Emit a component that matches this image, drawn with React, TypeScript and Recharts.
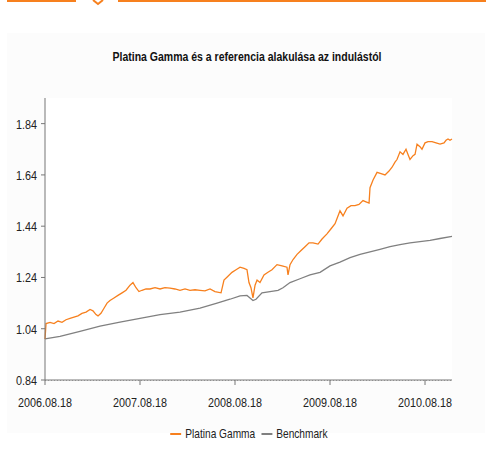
import { LineChart, Line, XAxis, YAxis, CartesianGrid } from 'recharts';

// years since launch (2006.08.18)
const gammaYears = [
  0, 0.011, 0.053, 0.095, 0.137, 0.179, 0.221, 0.263, 0.305, 0.347, 0.389, 0.432, 0.474, 0.505, 0.537,
  0.558, 0.589, 0.621, 0.653, 0.684, 0.726, 0.768, 0.811, 0.853, 0.895, 0.926, 0.958, 0.989, 1.021,
  1.063, 1.105, 1.158, 1.211, 1.263, 1.316, 1.368, 1.421, 1.474, 1.526, 1.579, 1.632, 1.684, 1.737,
  1.789, 1.853, 1.884, 1.926, 1.968, 2.011, 2.053, 2.095, 2.126, 2.147, 2.168, 2.189, 2.211, 2.232,
  2.263, 2.305, 2.347, 2.389, 2.442, 2.495, 2.547, 2.558, 2.579, 2.611, 2.653, 2.695, 2.737, 2.779,
  2.821, 2.874, 2.916, 2.968, 3.011, 3.053, 3.084, 3.105, 3.137, 3.179, 3.221, 3.263, 3.305, 3.347,
  3.379, 3.411, 3.421, 3.453, 3.495, 3.537, 3.579, 3.621, 3.653, 3.684, 3.705, 3.737, 3.768, 3.8,
  3.821, 3.842, 3.874, 3.895, 3.916, 3.947, 3.968, 4.0, 4.032, 4.074, 4.116, 4.158, 4.2, 4.221, 4.242,
  4.263, 4.284,
];
const gammaValues = [
  1.0, 1.06, 1.065, 1.06, 1.07, 1.065, 1.075, 1.08, 1.085, 1.09, 1.1, 1.105, 1.115, 1.11, 1.095,
  1.09, 1.1, 1.12, 1.14, 1.15, 1.16, 1.17, 1.18, 1.19, 1.21, 1.22, 1.2, 1.185, 1.19,
  1.195, 1.195, 1.2, 1.195, 1.2, 1.198, 1.195, 1.19, 1.195, 1.19, 1.192, 1.19, 1.188, 1.195,
  1.185, 1.18, 1.23, 1.245, 1.26, 1.27, 1.28, 1.275, 1.27, 1.22, 1.2, 1.16, 1.21, 1.23,
  1.22, 1.25, 1.26, 1.27, 1.29, 1.285, 1.28, 1.25, 1.29, 1.31, 1.33, 1.345, 1.36, 1.375,
  1.375, 1.37, 1.39, 1.41, 1.43, 1.45, 1.48, 1.5, 1.48, 1.51, 1.52, 1.52, 1.525, 1.54,
  1.535, 1.53, 1.59, 1.62, 1.65, 1.645, 1.64, 1.655, 1.67, 1.69, 1.7, 1.73, 1.72, 1.74,
  1.72, 1.7, 1.715, 1.72, 1.76, 1.75, 1.74, 1.765, 1.77, 1.77, 1.765, 1.76, 1.765, 1.775, 1.78,
  1.775, 1.78,
];

const benchYears = [
  0, 0.158, 0.368, 0.579, 0.789, 1.0, 1.211, 1.421, 1.632, 1.811, 1.947, 2.053, 2.126, 2.158, 2.189,
  2.221, 2.284, 2.368, 2.453, 2.505, 2.579, 2.684, 2.789, 2.895, 3.0, 3.105, 3.211, 3.316, 3.421,
  3.526, 3.632, 3.737, 3.842, 3.947, 4.053, 4.158, 4.284,
];
const benchValues = [
  1.0, 1.01, 1.03, 1.05, 1.066, 1.08, 1.095, 1.105, 1.12, 1.14, 1.155, 1.168, 1.17, 1.16, 1.15,
  1.155, 1.18, 1.185, 1.19, 1.2, 1.22, 1.235, 1.25, 1.26, 1.285, 1.3, 1.317, 1.33, 1.34,
  1.35, 1.36, 1.368, 1.375, 1.38, 1.385, 1.392, 1.4,
];

const xTicks = [0, 1, 2, 3, 4];
const xTickLabels = ['2006.08.18', '2007.08.18', '2008.08.18', '2009.08.18', '2010.08.18'];
const yTicks = [0.84, 1.04, 1.24, 1.44, 1.64, 1.84];

const gammaData = gammaYears.map((t, i) => ({ t, v: gammaValues[i] }));
const benchData = benchYears.map((t, i) => ({ t, v: benchValues[i] }));

const FONT = '"Liberation Sans", Arial, sans-serif';
const ORANGE = '#f7801e';
const GREY = '#808080';

// the original uses a condensed font, so squeeze the tick text a little
function XTick(props: any) {
  const { x, y, payload } = props;
  return (
    <text
      x={x}
      y={y + 10}
      textAnchor="middle"
      fill="#222"
      fontSize={13.5}
      fontFamily={FONT}
      textLength={54}
      lengthAdjust="spacingAndGlyphs"
    >
      {xTickLabels[payload.value]}
    </text>
  );
}

function YTick(props: any) {
  const { x, y, payload } = props;
  return (
    <text
      x={x - 21}
      y={y + 5}
      textAnchor="start"
      fill="#222"
      fontSize={13.5}
      fontFamily={FONT}
      textLength={21}
      lengthAdjust="spacingAndGlyphs"
    >
      {payload.value.toFixed(2)}
    </text>
  );
}

export default function App() {
  return (
    <div style={{ position: 'absolute', left: 0, top: 0, width: 486, height: 451, background: '#fff', fontFamily: FONT }}>
      {/* top tab decoration */}
      <svg width={486} height={6} style={{ position: 'absolute', left: 0, top: 0 }}>
        <line x1={7} y1={1} x2={76} y2={1} stroke={ORANGE} strokeWidth={2} />
        <line x1={118} y1={1} x2={486} y2={1} stroke={ORANGE} strokeWidth={2} />
        <polyline points="93,0 98,4 103,0" fill="none" stroke={ORANGE} strokeWidth={2} />
      </svg>
      <div style={{ position: 'absolute', left: 7, top: 33, width: 478, height: 400, background: '#fcfcfc' }} />

      <div
        style={{
          position: 'absolute',
          left: 0,
          top: 50,
          width: 494,
          textAlign: 'center',
          fontSize: 12.5,
          fontWeight: 'bold',
          color: '#111',
          transform: 'scaleX(0.84)',
        }}
      >
        Platina Gamma és a referencia alakulása az indulástól
      </div>

      <div style={{ position: 'absolute', left: 0, top: 0 }}>
        <LineChart width={486} height={451} margin={{ top: 98, right: 34, bottom: 41, left: 0 }}>
          <rect x={45} y={98} width={407} height={282} fill="#fff" />
          <CartesianGrid vertical={false} horizontalValues={yTicks} stroke="#555" strokeDasharray="1 2" />
          <XAxis
            type="number"
            dataKey="t"
            domain={[0, 4.284]}
            ticks={xTicks}
            height={30}
            tickSize={5}
            tickMargin={12}
            stroke="#777"
            tick={<XTick />}
            interval={0}
          />
          <YAxis
            type="number"
            domain={[0.84, 1.94]}
            ticks={yTicks}
            width={45}
            tickSize={4}
            tickMargin={4}
            stroke="#777"
            tick={<YTick />}
            interval={0}
          />
          <Line data={benchData} dataKey="v" type="linear" stroke={GREY} strokeWidth={1.3} dot={false} isAnimationActive={false} />
          <Line data={gammaData} dataKey="v" type="linear" stroke={ORANGE} strokeWidth={1.3} dot={false} isAnimationActive={false} />
        </LineChart>
      </div>

      {/* legend */}
      <div
        style={{
          position: 'absolute',
          left: 0,
          top: 426,
          width: 498,
          display: 'flex',
          justifyContent: 'center',
          alignItems: 'center',
          fontSize: 13,
          color: '#222',
          transform: 'scaleX(0.78)',
        }}
      >
        <span style={{ display: 'inline-block', width: 14, height: 2, background: ORANGE, marginRight: 5 }} />
        <span style={{ marginRight: 8 }}>Platina Gamma</span>
        <span style={{ display: 'inline-block', width: 14, height: 2, background: GREY, marginRight: 5 }} />
        <span>Benchmark</span>
      </div>
    </div>
  );
}
